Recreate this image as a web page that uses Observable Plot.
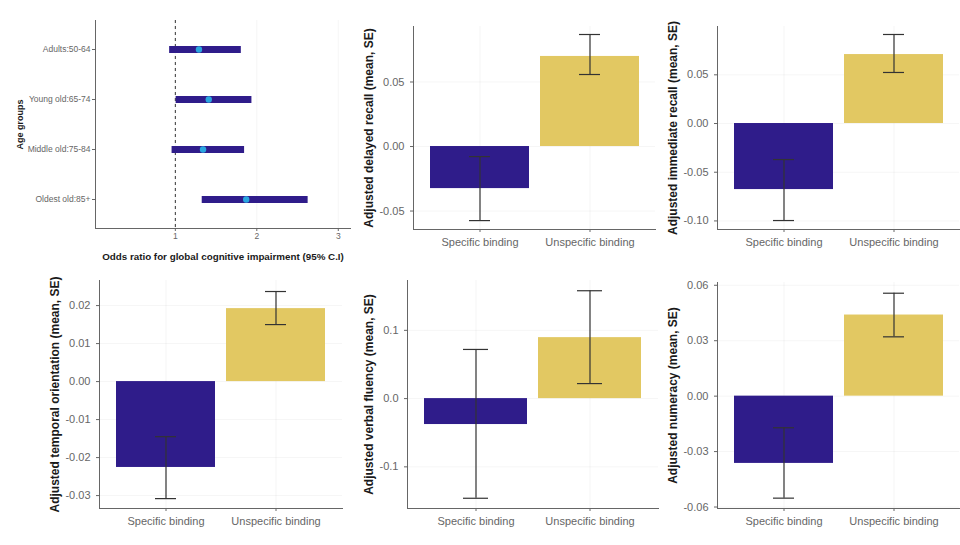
<!DOCTYPE html>
<html><head><meta charset="utf-8">
<script src="https://cdn.jsdelivr.net/npm/d3@7"></script>
<script src="https://cdn.jsdelivr.net/npm/@observablehq/plot@0.6"></script>
<style>
body{margin:0;background:#fff;width:960px;height:545px;position:relative;overflow:hidden;font-family:"Liberation Sans",Arial,sans-serif}
.panel{position:absolute}
.panel svg{overflow:visible}
#p1{z-index:2}
g[aria-label="y-axis label"] text, g[aria-label="x-axis label"] text{font-weight:bold;fill:#1a1a1a}
.bar g[aria-label="y-axis label"] text{font-size:12px}
#p1 g[aria-label="y-axis label"] text{font-size:9px}
#p1 g[aria-label="x-axis label"] text{font-size:9.8px}
</style></head>
<body>
<div id="p1" class="panel" style="left:0;top:0"></div>
<div id="p2" class="panel bar" style="left:340px;top:0"></div>
<div id="p3" class="panel bar" style="left:660px;top:0"></div>
<div id="p4" class="panel bar" style="left:0;top:265px"></div>
<div id="p5" class="panel bar" style="left:340px;top:265px"></div>
<div id="p6" class="panel bar" style="left:660px;top:265px"></div>
<script>
// ---- Forest plot data ----
const ageGroups = ["Adults:50-64", "Young old:65-74", "Middle old:75-84", "Oldest old:85+"];
const orEstimate = [1.29, 1.41, 1.34, 1.87];
const orLower = [0.93, 1.01, 0.96, 1.33];
const orUpper = [1.81, 1.94, 1.85, 2.63];
const orTicks = [1, 2, 3];

// ---- Bar panels data ----
const bindingGroups = ["Specific binding", "Unspecific binding"];

const delayedMean = [-0.0326, 0.0698];
const delayedLow = [-0.0574, 0.0558];
const delayedHigh = [-0.0078, 0.0868];
const delayedTicks = [-0.05, 0, 0.05];

const immediateMean = [-0.0678, 0.0708];
const immediateLow = [-0.0996, 0.0524];
const immediateHigh = [-0.0370, 0.0914];
const immediateTicks = [-0.10, -0.05, 0, 0.05];

const temporalMean = [-0.0226, 0.0192];
const temporalLow = [-0.0308, 0.0150];
const temporalHigh = [-0.0145, 0.0237];
const temporalTicks = [-0.03, -0.02, -0.01, 0, 0.01, 0.02];

const fluencyMean = [-0.038, 0.0893];
const fluencyLow = [-0.146, 0.022];
const fluencyHigh = [0.072, 0.158];
const fluencyTicks = [-0.1, 0, 0.1];

const numeracyMean = [-0.0364, 0.0439];
const numeracyLow = [-0.0552, 0.0321];
const numeracyHigh = [-0.0171, 0.0557];
const numeracyTicks = [-0.06, -0.03, 0, 0.03, 0.06];

const INDIGO = "#2f1c8a";
const GOLD = "#e2c862";
const FONT = "'Liberation Sans', Arial, sans-serif";

// ---- Forest plot ----
{
  const rows = ageGroups.map((g, i) => ({g, est: orEstimate[i], lo: orLower[i], hi: orUpper[i]}));
  const p = Plot.plot({
    width: 360, height: 265,
    marginLeft: 95, marginRight: 10, marginTop: 20, marginBottom: 37,
    style: {fontFamily: FONT, fontSize: "8.5px", color: "#666", background: "transparent", overflow: "visible"},
    x: {domain: [0.02, 3.15], ticks: orTicks, tickFormat: d => String(d), line: true, tickSize: 3, tickPadding: 1,
        label: "Odds ratio for global cognitive impairment (95% C.I)", labelAnchor: "center", labelOffset: 31, labelArrow: "none"},
    y: {type: "point", domain: ageGroups, padding: 0.58, line: true, tickSize: 3, tickPadding: 2,
        label: "Age groups", labelAnchor: "center", labelOffset: 79, labelArrow: "none"},
    marks: [
      Plot.gridX(orTicks, {stroke: "#000", strokeOpacity: 0.04}),
      Plot.ruleX([1], {stroke: "#333", strokeDasharray: "3,3", strokeWidth: 1}),
      Plot.ruleY(rows, {y: "g", x1: "lo", x2: "hi", stroke: INDIGO, strokeWidth: 7}),
      Plot.dot(rows, {x: "est", y: "g", fill: "#2aa6e0", r: 3.2})
    ]
  });
  document.getElementById("p1").appendChild(p);
}

// ---- Bar panels ----
function barPanel(id, cfg) {
  const rows = bindingGroups.map((c, i) => ({cat: c, mean: cfg.mean[i], lo: cfg.low[i], hi: cfg.high[i]}));
  const p = Plot.plot({
    width: cfg.width, height: cfg.height,
    marginLeft: cfg.ml, marginRight: cfg.mr, marginTop: cfg.mt, marginBottom: cfg.mb,
    style: {fontFamily: FONT, fontSize: "11px", color: "#666", background: "transparent", overflow: "visible"},
    x: {domain: bindingGroups, paddingInner: 0.1, paddingOuter: 0.15, label: null, line: true, tickSize: 3},
    y: {domain: cfg.domain, ticks: cfg.ticks, tickFormat: d => d.toFixed(cfg.digits), line: true, tickSize: 3,
        label: cfg.title, labelAnchor: "center", labelOffset: cfg.lo, labelArrow: "none"},
    color: {domain: bindingGroups, range: [INDIGO, GOLD]},
    marks: [
      Plot.gridY(cfg.ticks, {stroke: "#000", strokeOpacity: 0.04}),
      Plot.gridX(bindingGroups, {stroke: "#000", strokeOpacity: 0.04}),
      Plot.barY(rows, {x: "cat", y: "mean", fill: "cat"}),
      Plot.ruleX(rows, {x: "cat", y1: "lo", y2: "hi", stroke: "#333", strokeWidth: 1.2}),
      Plot.tickY(rows, {x: "cat", y: "lo", stroke: "#333", strokeWidth: 1.2, insetLeft: 39, insetRight: 39}),
      Plot.tickY(rows, {x: "cat", y: "hi", stroke: "#333", strokeWidth: 1.2, insetLeft: 39, insetRight: 39})
    ]
  });
  document.getElementById(id).appendChild(p);
}

barPanel("p2", {width: 320, height: 265, ml: 73, mr: 5, mt: 26, mb: 36, lo: 49,
  domain: [-0.0643, 0.093], ticks: delayedTicks, digits: 2,
  mean: delayedMean, low: delayedLow, high: delayedHigh,
  title: "Adjusted delayed recall (mean, SE)"});
barPanel("p3", {width: 300, height: 265, ml: 57, mr: 1, mt: 26, mb: 36, lo: 49,
  domain: [-0.1088, 0.0996], ticks: immediateTicks, digits: 2,
  mean: immediateMean, low: immediateLow, high: immediateHigh,
  title: "Adjusted immediate recall (mean, SE)"});
barPanel("p4", {width: 360, height: 280, ml: 99, mr: 18, mt: 15, mb: 37, lo: 49,
  domain: [-0.0334, 0.0266], ticks: temporalTicks, digits: 2,
  mean: temporalMean, low: temporalLow, high: temporalHigh,
  title: "Adjusted temporal orientation (mean, SE)"});
barPanel("p5", {width: 320, height: 280, ml: 67, mr: 2, mt: 15, mb: 37, lo: 43,
  domain: [-0.161, 0.173], ticks: fluencyTicks, digits: 1,
  mean: fluencyMean, low: fluencyLow, high: fluencyHigh,
  title: "Adjusted verbal fluency (mean, SE)"});
barPanel("p6", {width: 300, height: 280, ml: 57, mr: 1, mt: 17, mb: 37, lo: 49,
  domain: [-0.0608, 0.0615], ticks: numeracyTicks, digits: 2,
  mean: numeracyMean, low: numeracyLow, high: numeracyHigh,
  title: "Adjusted numeracy (mean, SE)"});
</script>
</body></html>
